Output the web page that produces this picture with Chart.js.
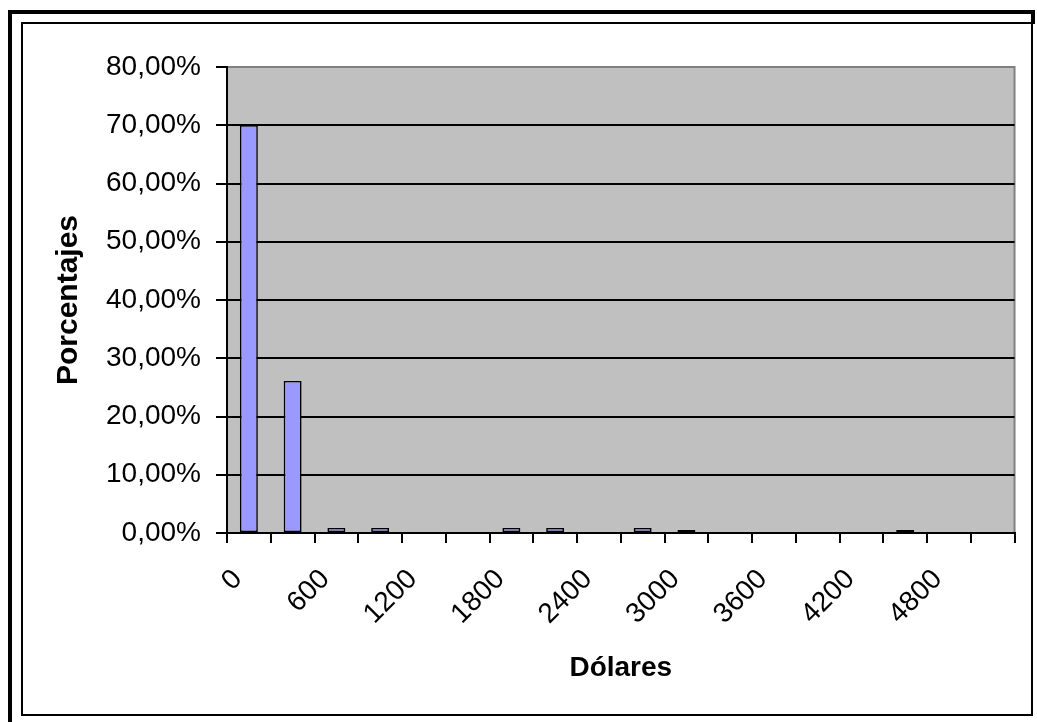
<!DOCTYPE html>
<html>
<head>
<meta charset="utf-8">
<script src="https://cdn.jsdelivr.net/npm/chart.js@4"></script>
<style>
  html, body { margin: 0; padding: 0; background: #ffffff; }
  #wrap { width: 1037px; height: 722px; position: relative; }
</style>
</head>
<body>
<div id="wrap"><canvas id="c" width="1037" height="722"></canvas></div>
<script>
// Histogram of amounts in dollars (class width 300)
const categories = [0, 300, 600, 900, 1200, 1500, 1800, 2100, 2400, 2700, 3000, 3300, 3600, 3900, 4200, 4500, 4800, 5100];
const percentages = [70.0, 26.1, 0.87, 0.87, 0, 0, 0.87, 0.87, 0, 0.87, 0.5, 0, 0, 0, 0, 0.5, 0, 0];
const yTickValues = [0, 10, 20, 30, 40, 50, 60, 70, 80];
const labelEvery = 2;

const FONT = '"Liberation Sans", Arial, sans-serif';

// Page frame and grey plot background
const framePlugin = {
  id: 'frame',
  beforeDraw(chart) {
    const ctx = chart.ctx;
    const a = chart.chartArea;
    ctx.save();
    ctx.fillStyle = '#ffffff';
    ctx.fillRect(0, 0, chart.width, chart.height);
    // outer heavy frame
    ctx.strokeStyle = '#000000';
    ctx.lineWidth = 4;
    ctx.beginPath();
    ctx.moveTo(10, 730);
    ctx.lineTo(10, 12);
    ctx.lineTo(1033, 12);
    ctx.lineTo(1033, 24);
    ctx.stroke();
    // inner thin frame
    ctx.lineWidth = 2;
    ctx.strokeRect(22, 23, 1010, 692);
    // plot area
    ctx.fillStyle = '#c0c0c0';
    ctx.fillRect(a.left, a.top, a.right - a.left, a.bottom - a.top);
    ctx.strokeStyle = '#808080';
    ctx.lineWidth = 2;
    ctx.strokeRect(a.left, a.top, a.right - a.left, a.bottom - a.top);
    ctx.restore();
  }
};

new Chart(document.getElementById('c'), {
  type: 'bar',
  data: {
    labels: categories.map(String),
    datasets: [{
      data: percentages,
      backgroundColor: '#9999ff',
      borderColor: '#000000',
      borderWidth: 1.6,
      borderSkipped: false,
      categoryPercentage: 1.0,
      barPercentage: 0.41
    }]
  },
  options: {
    responsive: false,
    animation: false,
    events: [],
    layout: { padding: { left: 0, top: 67, right: 21, bottom: 0 } },
    plugins: { legend: { display: false }, tooltip: { enabled: false } },
    scales: {
      x: {
        afterFit(scale) { scale.height = 189; },
        grid: {
          display: true, drawOnChartArea: false, drawTicks: true,
          tickLength: 10, color: '#000000', lineWidth: 2, offset: true
        },
        border: { display: true, color: '#000000', width: 2 },
        ticks: {
          autoSkip: false, minRotation: 45, maxRotation: 45, padding: 20, labelOffset: -11,
          color: '#000000', font: { family: FONT, size: 28 },
          callback: (v, i) => (i % labelEvery === 0 ? String(categories[i]) : '')
        },
        title: {
          display: true, text: 'Dólares', color: '#000000',
          font: { family: FONT, size: 28, weight: 'bold' },
          padding: { top: 0, bottom: 37 }
        }
      },
      y: {
        min: 0, max: 80,
        afterFit(scale) { scale.width = 227; },
        afterBuildTicks(scale) { scale.ticks = yTickValues.map(v => ({ value: v })); },
        grid: {
          drawTicks: true, tickLength: 11, lineWidth: 2,
          color: c => (c.tick && c.tick.value === 80 ? '#808080' : '#000000'),
          tickColor: '#000000'
        },
        border: { display: true, color: '#000000', width: 2 },
        ticks: {
          padding: 15, color: '#000000', font: { family: FONT, size: 28 },
          callback: v => v.toFixed(2).replace('.', ',') + '%'
        },
        title: {
          display: true, text: 'Porcentajes', color: '#000000',
          font: { family: FONT, size: 30, weight: 'bold' },
          padding: { top: 51, bottom: 0 }
        }
      }
    }
  },
  plugins: [framePlugin]
});
</script>
</body>
</html>
